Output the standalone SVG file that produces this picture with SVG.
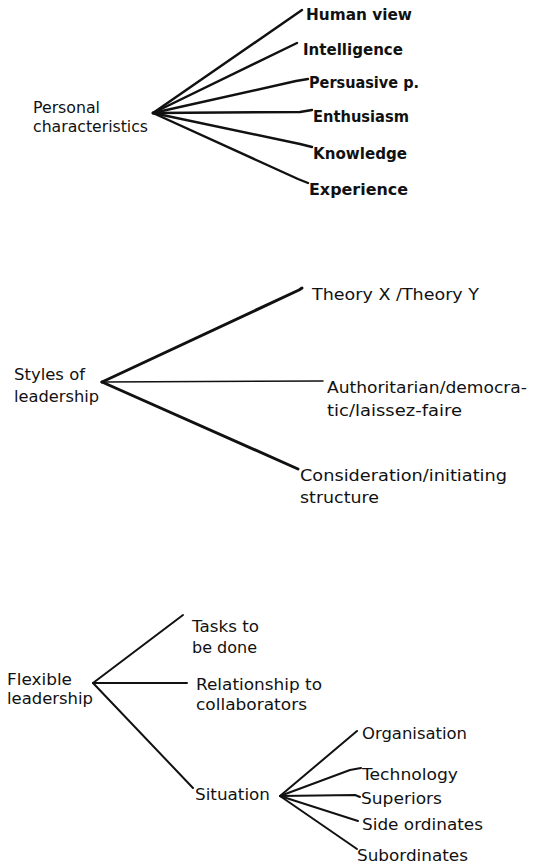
<svg xmlns="http://www.w3.org/2000/svg" width="538" height="864" viewBox="0 0 538 864">
<style>
text{font-family:"DejaVu Sans","Liberation Sans",sans-serif;fill:#111;}
.s1{font-size:16px;font-weight:bold;}
.s2{font-size:15px;}
.s3{font-size:15px;}
.c{stroke:#111;fill:none;stroke-linecap:round;stroke-linejoin:round;}
.t1{stroke-width:2.4;}
.t2{stroke-width:3;}
.t3{stroke-width:1.6;}
.t4{stroke-width:2;}
</style>
<rect width="538" height="864" fill="#fff"/>
<g id="connectors">
  <g class="c t1">
    <line x1="153" y1="113" x2="302" y2="10"/>
    <line x1="153" y1="113" x2="297" y2="43"/>
    <polyline points="153,113 296,81 308,79"/>
    <polyline points="153,113 300,112 312,110"/>
    <polyline points="153,113 300,144 312,147"/>
    <polyline points="153,113 298,179 308,183"/>
  </g>
  <g class="c">
    <polyline class="t2" points="102,382 299,290 302,288"/>
    <line class="t3" x1="102" y1="382" x2="323" y2="381"/>
    <line class="t2" x1="102" y1="382" x2="298" y2="469"/>
  </g>
  <g class="c t4">
    <line x1="93" y1="683" x2="183" y2="615"/>
    <line x1="93" y1="683" x2="187" y2="683"/>
    <line x1="93" y1="683" x2="193" y2="788"/>
    <line x1="280" y1="796" x2="357" y2="731"/>
    <polyline points="280,796 350,770 361,768"/>
    <polyline points="280,796 355,795 360,797"/>
    <polyline points="280,796 358,821"/>
    <polyline points="280,796 357,849"/>
  </g>
</g>
<g id="personal-characteristics"><text class="s1" style="font-weight:normal"><tspan x="33" y="113" textLength="67" lengthAdjust="spacingAndGlyphs">Personal</tspan><tspan x="33" y="132" textLength="115" lengthAdjust="spacingAndGlyphs">characteristics</tspan></text></g>
<g id="human-view"><text class="s1" x="306" y="20" textLength="106" lengthAdjust="spacingAndGlyphs">Human view</text></g>
<g id="intelligence"><text class="s1" x="303" y="55" textLength="100" lengthAdjust="spacingAndGlyphs">Intelligence</text></g>
<g id="persuasive"><text class="s1" x="309" y="88" textLength="110" lengthAdjust="spacingAndGlyphs">Persuasive p.</text></g>
<g id="enthusiasm"><text class="s1" x="313" y="122" textLength="96" lengthAdjust="spacingAndGlyphs">Enthusiasm</text></g>
<g id="knowledge"><text class="s1" x="313" y="159" textLength="94" lengthAdjust="spacingAndGlyphs">Knowledge</text></g>
<g id="experience"><text class="s1" x="309" y="195" textLength="99" lengthAdjust="spacingAndGlyphs">Experience</text></g>

<g id="styles-of-leadership"><text class="s2"><tspan x="14" y="380" textLength="71" lengthAdjust="spacingAndGlyphs">Styles of</tspan><tspan x="14" y="402" textLength="85" lengthAdjust="spacingAndGlyphs">leadership</tspan></text></g>
<g id="theory-xy"><text class="s2" x="312" y="300" textLength="167" lengthAdjust="spacingAndGlyphs">Theory X /Theory Y</text></g>
<g id="authoritarian"><text class="s2"><tspan x="327" y="393" textLength="200" lengthAdjust="spacingAndGlyphs">Authoritarian/democra-</tspan><tspan x="327" y="416" textLength="135" lengthAdjust="spacingAndGlyphs">tic/laissez-faire</tspan></text></g>
<g id="consideration"><text class="s2"><tspan x="300" y="481" textLength="207" lengthAdjust="spacingAndGlyphs">Consideration/initiating</tspan><tspan x="300" y="503" textLength="79" lengthAdjust="spacingAndGlyphs">structure</tspan></text></g>

<g id="flexible-leadership"><text class="s3"><tspan x="7" y="685" textLength="65" lengthAdjust="spacingAndGlyphs">Flexible</tspan><tspan x="7" y="704" textLength="86" lengthAdjust="spacingAndGlyphs">leadership</tspan></text></g>
<g id="tasks"><text class="s3"><tspan x="192" y="632" textLength="67" lengthAdjust="spacingAndGlyphs">Tasks to</tspan><tspan x="192" y="653" textLength="65" lengthAdjust="spacingAndGlyphs">be done</tspan></text></g>
<g id="relationship"><text class="s3"><tspan x="196" y="690" textLength="126" lengthAdjust="spacingAndGlyphs">Relationship to</tspan><tspan x="196" y="710" textLength="111" lengthAdjust="spacingAndGlyphs">collaborators</tspan></text></g>
<g id="situation"><text class="s3" x="195" y="800" textLength="75" lengthAdjust="spacingAndGlyphs">Situation</text></g>
<g id="organisation"><text class="s3" x="362" y="739" textLength="105" lengthAdjust="spacingAndGlyphs">Organisation</text></g>
<g id="technology"><text class="s3" x="362" y="780" textLength="96" lengthAdjust="spacingAndGlyphs">Technology</text></g>
<g id="superiors"><text class="s3" x="361" y="804" textLength="81" lengthAdjust="spacingAndGlyphs">Superiors</text></g>
<g id="side-ordinates"><text class="s3" x="362" y="830" textLength="121" lengthAdjust="spacingAndGlyphs">Side ordinates</text></g>
<g id="subordinates"><text class="s3" x="357" y="861" textLength="111" lengthAdjust="spacingAndGlyphs">Subordinates</text></g>
</svg>
